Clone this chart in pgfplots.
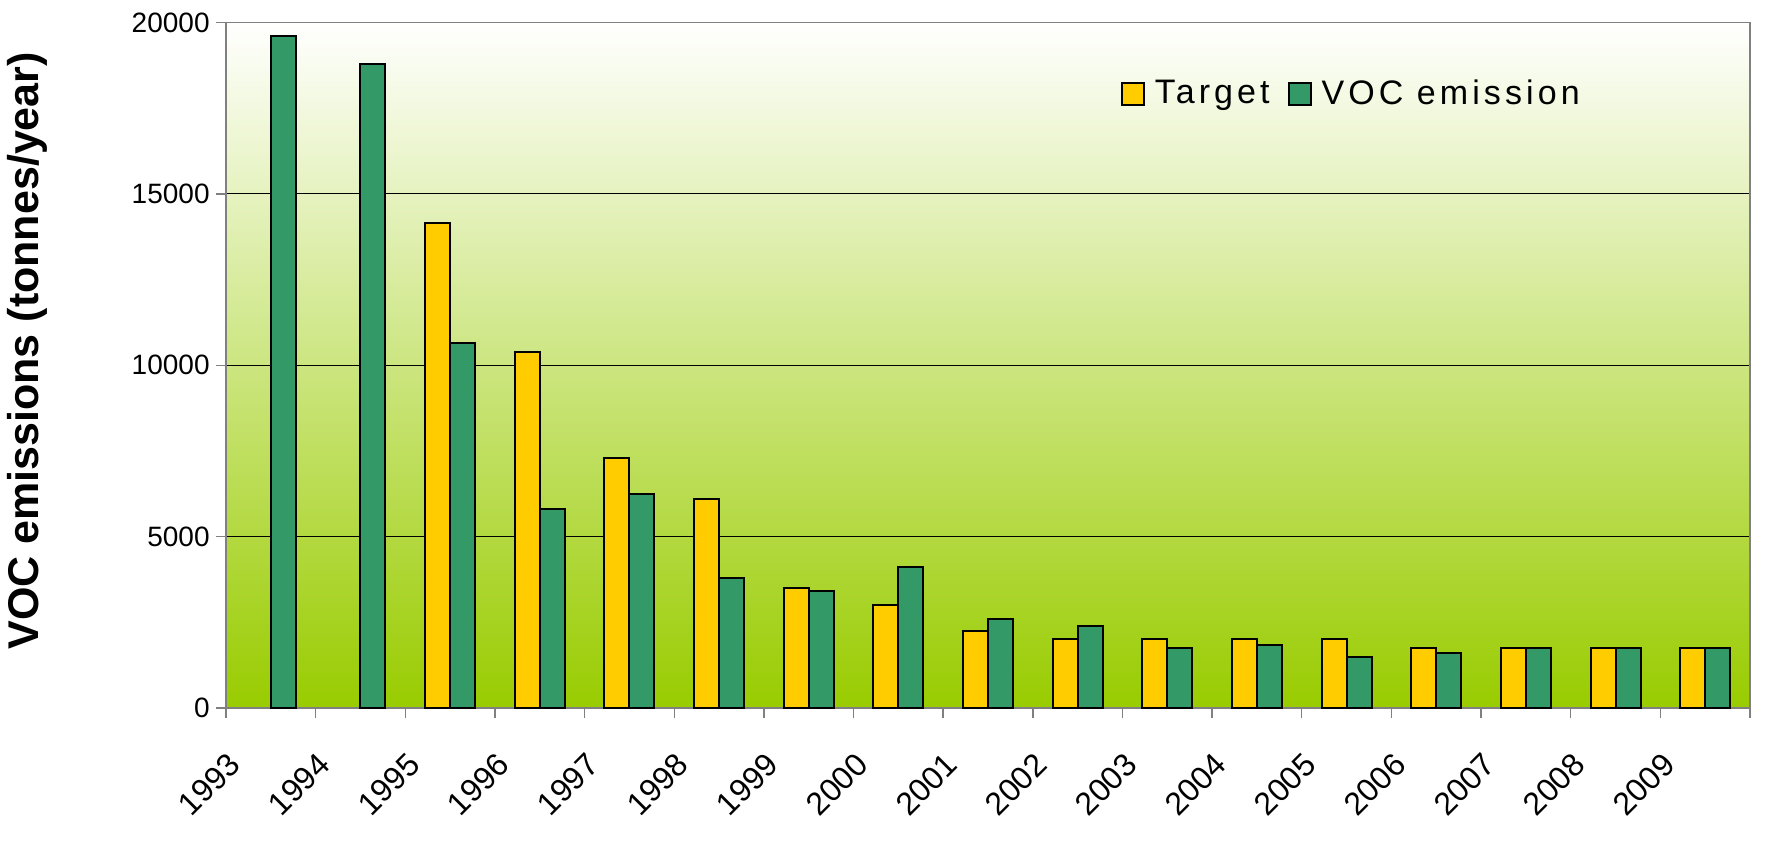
\documentclass[border=0pt]{standalone}
\usepackage{pgfplots}
\pgfplotsset{compat=1.18}
\usepackage{fontspec}
\setmainfont{Liberation Sans}
\newfontfamily\legfont{Liberation Sans}[LetterSpace=12]
\definecolor{tgt}{RGB}{255,204,0}
\definecolor{voc}{RGB}{51,153,102}
\definecolor{bgbot}{RGB}{153,204,0}
\definecolor{bgmid}{RGB}{218,235,200}
\definecolor{axgray}{RGB}{128,128,128}

\begin{document}
\begin{tikzpicture}
\useasboundingbox (-113pt,-71.5pt) rectangle (770.5pt,354pt);
\begin{axis}[
  at={(0pt,0pt)}, anchor=south west,
  scale only axis, width=762pt, height=342.75pt,
  xmin=-0.5, xmax=16.5, ymin=0, ymax=20000,
  ybar=0pt, bar width=12.5pt,
  axis background/.style={shade, top color=white, middle color=bgmid, bottom color=bgbot},
  axis line style={draw=axgray, line width=0.9pt},
  ymajorgrids, major grid style={black, line width=0.5pt},
  tick align=outside, major tick length=0pt, minor tick length=5pt,
  tick style={draw=axgray, line width=0.7pt},
  xtick pos=bottom, ytick pos=left,
  scaled y ticks=false,
  ytick={0,5000,10000,15000,20000},
  minor ytick={0,5000,10000,15000,20000},
  yticklabels={0,5000,10000,15000,20000},
  yticklabel style={font=\fontsize{14}{16}\selectfont, inner sep=0pt, xshift=-8pt},
  xtick={0,1,...,16},
  minor xtick={-0.5,0.5,...,16.5},
  xticklabels={1993,1994,1995,1996,1997,1998,1999,2000,2001,2002,2003,2004,2005,2006,2007,2008,2009},
  xticklabel style={font=\fontsize{16}{19}\selectfont, inner sep=0pt, xshift=-18pt, yshift=-25.5pt, rotate=45, anchor=east},
  ylabel={VOC emissions (tonnes/year)},
  ylabel style={at={(axis description cs:-0.13,0.521)}, anchor=center, font=\bfseries\fontsize{21.5}{25}\selectfont},
  legend columns=2,
  legend style={at={(0.739,0.896)}, anchor=center, draw=none, fill=none,
    font=\legfont\fontsize{17}{20}\selectfont,
    /tikz/every even column/.append style={column sep=7pt}},
  legend image code/.code={\draw[#1, line width=1pt] (0pt,-5.5pt) rectangle (11pt,5.5pt); \path[draw=none, fill=none] (14.5pt,0pt) circle[radius=0pt];},
]
\addplot[fill=tgt, draw=black, line width=1pt] coordinates {
 (2,14150) (3,10400) (4,7300) (5,6100) (6,3500) (7,3000) (8,2250) (9,2000)
 (10,2000) (11,2000) (12,2000) (13,1750) (14,1750) (15,1750) (16,1750)};
\addlegendentry{Target}
\addplot[fill=voc, draw=black, line width=1pt] coordinates {
 (0,19600) (1,18800) (2,10650) (3,5800) (4,6250) (5,3800) (6,3400) (7,4100)
 (8,2600) (9,2400) (10,1750) (11,1850) (12,1500) (13,1600) (14,1750) (15,1750) (16,1750)};
\addlegendentry{VOC emission}
\end{axis}
\end{tikzpicture}
\end{document}
